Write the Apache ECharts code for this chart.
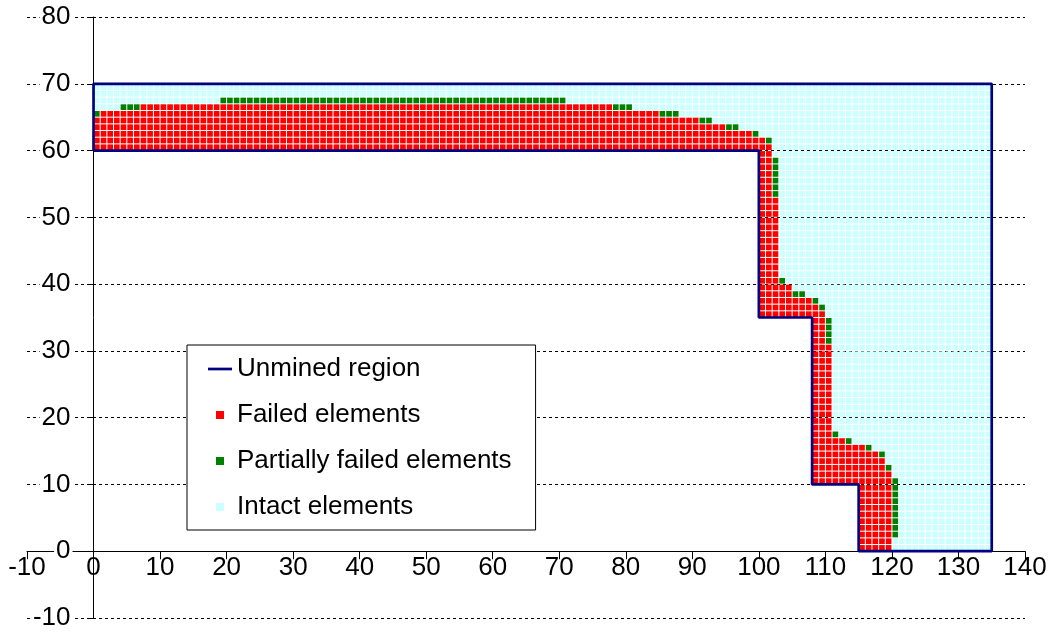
<!DOCTYPE html>
<html>
<head>
<meta charset="utf-8">
<script src="https://cdn.jsdelivr.net/npm/echarts@6/dist/echarts.min.js"></script>
<style>
  html, body { margin: 0; padding: 0; background: #ffffff; }
  #chart { width: 1056px; height: 632px; }
</style>
</head>
<body>
<div id="chart"></div>
<script>
// Axis ranges: [min, max, step]
const xRange = [-10, 140, 10];
const yRange = [-10, 80, 10];

// Outline of the unmined region, vertex by vertex
const unminedX = [0, 100, 100, 108, 108, 115, 115, 135, 135, 0, 0];
const unminedY = [60, 60, 35, 35, 10, 10, 0, 0, 70, 70, 60];

// Element blocks of the model: [fromRow, toRow, firstCol, lastCol]
const modelBlocks = [
  [60, 69, 0, 134],
  [35, 59, 100, 134],
  [10, 34, 108, 134],
  [0, 9, 115, 134]
];

// Upper strip, runs of columns: [firstCol, lastCol, failed rows counted up from y=60, partially failed row]
const stripColumns = [
  [0, 0, 5, 65],
  [1, 3, 6, null],
  [4, 6, 6, 66],
  [7, 18, 7, null],
  [19, 70, 7, 67],
  [71, 77, 7, null],
  [78, 80, 6, 66],
  [81, 84, 6, null],
  [85, 87, 5, 65],
  [88, 90, 5, null],
  [91, 92, 4, 64],
  [93, 94, 4, null],
  [95, 96, 3, 63],
  [97, 98, 3, null],
  [99, 99, 2, 62],
  [100, 100, 2, null],
  [101, 101, 1, 61]
];

// Stepped part below y=60, runs of rows: [fromRow, toRow, failedFrom, failedTo, partialFrom, partialTo]
const stepRows = [
  [59, 59, 100, 101, null, null],
  [53, 58, 100, 101, 102, 102],
  [41, 52, 100, 102, null, null],
  [40, 40, 100, 102, 103, 103],
  [39, 39, 100, 104, null, null],
  [38, 38, 100, 104, 105, 106],
  [37, 37, 100, 107, 108, 108],
  [36, 36, 100, 108, 109, 109],
  [35, 35, 100, 109, null, null],
  [31, 34, 108, 109, 110, 110],
  [18, 30, 108, 110, null, null],
  [17, 17, 108, 110, 111, 111],
  [16, 16, 108, 112, 113, 113],
  [15, 15, 108, 115, 116, 116],
  [14, 14, 108, 117, 118, 118],
  [13, 13, 108, 118, null, null],
  [12, 12, 108, 118, 119, 119],
  [11, 11, 108, 119, null, null],
  [10, 10, 108, 119, 120, 120],
  [2, 9, 115, 119, 120, 120],
  [0, 1, 115, 119, null, null]
];

// Element state: 0 intact, 1 failed, 2 partially failed
const state = new Map();
modelBlocks.forEach(([r0, r1, c0, c1]) => {
  for (let r = r0; r <= r1; r++) for (let c = c0; c <= c1; c++) state.set(c + ',' + r, 0);
});
stripColumns.forEach(([c0, c1, n, g]) => {
  for (let c = c0; c <= c1; c++) {
    for (let r = 60; r < 60 + n; r++) state.set(c + ',' + r, 1);
    if (g !== null) state.set(c + ',' + g, 2);
  }
});
stepRows.forEach(([r0, r1, f0, f1, p0, p1]) => {
  for (let r = r0; r <= r1; r++) {
    for (let c = f0; c <= f1; c++) state.set(c + ',' + r, 1);
    if (p0 !== null) for (let c = p0; c <= p1; c++) state.set(c + ',' + r, 2);
  }
});
const intactCells = [], failedCells = [], partialCells = [];
state.forEach((s, key) => {
  const cell = key.split(',').map(Number);
  (s === 1 ? failedCells : s === 2 ? partialCells : intactCells).push(cell);
});

// One element = one unit square, drawn with a thin white gap
function cellItem(params, api) {
  const x = api.value(0), y = api.value(1);
  const p = api.coord([x, y + 1]);
  const s = api.size([1, 1]);
  return {
    type: 'rect',
    shape: { x: p[0] + 0.5, y: p[1] + 0.5, width: s[0] - 1, height: s[1] - 1 },
    style: { fill: api.visual('color') }
  };
}

function cellSeries(name, color, data, z) {
  return {
    name: name, type: 'custom', renderItem: cellItem, data: data,
    encode: { x: 0, y: 1 }, itemStyle: { color: color }, z: z, silent: true
  };
}

// Plot box; axes cross at the origin, so each axis is shifted in by the other's distance to zero
const chartW = 1056, chartH = 632;
const box = { left: 27, right: 31, top: 17, bottom: 14 };
const plotW = chartW - box.left - box.right;
const plotH = chartH - box.top - box.bottom;
const xAxisShift = -(0 - yRange[0]) / (yRange[1] - yRange[0]) * plotH;
const yAxisShift = -(0 - xRange[0]) / (xRange[1] - xRange[0]) * plotW;

const squareIcon = 'path://M0,0H10V10H0Z';
const lineIcon = 'path://M0,0H24V2.7H0Z';
const font = 'Liberation Sans, Arial, sans-serif';

const chart = echarts.init(document.getElementById('chart'), null, { renderer: 'canvas' });
chart.setOption({
  animation: false,
  backgroundColor: '#ffffff',
  grid: {
    left: box.left, right: box.right, top: box.top, bottom: box.bottom,
    containLabel: false, outerBoundsMode: 'none'
  },
  xAxis: {
    type: 'value', min: xRange[0], max: xRange[1], interval: xRange[2],
    position: 'bottom', offset: xAxisShift,
    axisLine: { onZero: false, lineStyle: { color: '#000', width: 1 } },
    axisTick: { show: true, inside: false, length: 8, lineStyle: { color: '#000' } },
    axisLabel: { color: '#000', fontSize: 26, fontFamily: font, margin: 4,
                 showMinLabel: true, showMaxLabel: true, hideOverlap: false },
    splitLine: { show: false }
  },
  yAxis: {
    type: 'value', min: yRange[0], max: yRange[1], interval: yRange[2],
    position: 'left', offset: yAxisShift,
    axisLine: { onZero: false, lineStyle: { color: '#000', width: 1 } },
    axisTick: { show: true, inside: false, length: 5, lineStyle: { color: '#000' } },
    axisLabel: { color: '#000', fontSize: 26, fontFamily: font, margin: 21,
                 backgroundColor: '#fff', padding: [0, 2],
                 showMinLabel: true, showMaxLabel: true, hideOverlap: false },
    splitLine: { show: true, lineStyle: { color: '#000', width: 1, type: [3, 3] } }
  },
  legend: {
    orient: 'vertical', left: 187, top: 345,
    itemWidth: 24, itemHeight: 8, itemGap: 20,
    symbolKeepAspect: true,
    padding: [11, 24, 10, 21],
    backgroundColor: '#fff', borderColor: '#000', borderWidth: 1, borderRadius: 0,
    textStyle: { color: '#000', fontSize: 26, fontFamily: font },
    data: [
      { name: 'Unmined region', icon: lineIcon },
      { name: 'Failed elements', icon: squareIcon },
      { name: 'Partially failed elements', icon: squareIcon },
      { name: 'Intact elements', icon: squareIcon }
    ]
  },
  series: [
    cellSeries('Intact elements', '#ccffff', intactCells, 2),
    cellSeries('Failed elements', '#ff0000', failedCells, 3),
    cellSeries('Partially failed elements', '#008000', partialCells, 3),
    {
      name: 'Unmined region', type: 'line', symbol: 'none', z: 5, silent: true,
      data: unminedX.map((x, i) => [x, unminedY[i]]),
      lineStyle: { color: '#000080', width: 2.7 },
      itemStyle: { color: '#000080' }
    }
  ]
});
</script>
</body>
</html>
